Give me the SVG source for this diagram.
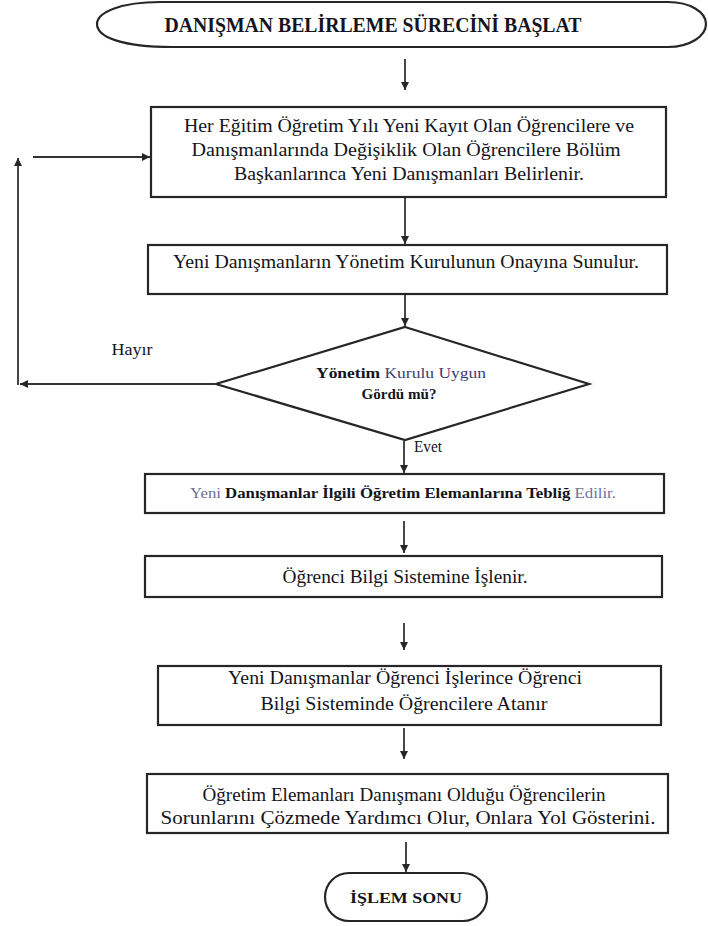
<svg xmlns="http://www.w3.org/2000/svg" width="708" height="926" viewBox="0 0 708 926">
<style>
  .shape { fill: #ffffff; stroke: #262626; stroke-width: 2.2; }
  .line { fill: none; stroke: #333333; stroke-width: 1.8; }
  .t { font-family: "Liberation Serif", "Times New Roman", serif; fill: #141420; text-anchor: middle; }
  .b { font-weight: bold; }
  .light { fill: #6e6e9a; }
  .mid { fill: #3c3c70; }
</style>
<defs>
  <marker id="a" viewBox="0 0 10 10" refX="10" refY="5" markerWidth="9" markerHeight="8" orient="auto" markerUnits="userSpaceOnUse">
    <path d="M0,0 L10,5 L0,10 Z" fill="#262626"/>
  </marker>
</defs>

<g id="start">
  <path class="shape" d="M160,2 L668,2 C690,2 706,12 706,24 C706,36 690,47 668,47 L172,47 C122,47 97,37 97,24 C97,12 122,2 160,2 Z"/>
  <text class="t b" x="373" y="32" font-size="20" textLength="417" lengthAdjust="spacingAndGlyphs">DANIŞMAN BELİRLEME SÜRECİNİ BAŞLAT</text>
</g>

<g id="box1">
  <rect class="shape" x="151" y="107" width="515" height="90"/>
  <text class="t" x="409" y="132" font-size="18" textLength="450" lengthAdjust="spacingAndGlyphs">Her Eğitim Öğretim Yılı Yeni Kayıt Olan Öğrencilere ve</text>
  <text class="t" x="406" y="156" font-size="18" textLength="429" lengthAdjust="spacingAndGlyphs">Danışmanlarında Değişiklik Olan Öğrencilere Bölüm</text>
  <text class="t" x="409" y="180" font-size="18" textLength="350" lengthAdjust="spacingAndGlyphs">Başkanlarınca Yeni Danışmanları Belirlenir.</text>
</g>

<g id="box2">
  <rect class="shape" x="148" y="245" width="519" height="49"/>
  <text class="t" x="406" y="268" font-size="18" textLength="466" lengthAdjust="spacingAndGlyphs">Yeni Danışmanların Yönetim Kurulunun Onayına Sunulur.</text>
</g>

<g id="decision">
  <polygon class="shape" points="405,327 589,384 405,440 216,384"/>
  <text class="t" x="401" y="378" font-size="14.5" textLength="170" lengthAdjust="spacingAndGlyphs"><tspan class="b">Yönetim</tspan> <tspan class="mid">Kurulu Uygun</tspan></text>
  <text class="t b" x="399" y="399" font-size="14.5" textLength="75" lengthAdjust="spacingAndGlyphs">Gördü mü?</text>
</g>

<g id="box3">
  <rect class="shape" x="145" y="474" width="519" height="39"/>
  <text class="t" x="403" y="498" font-size="15" textLength="426" lengthAdjust="spacingAndGlyphs"><tspan class="light">Yeni</tspan> <tspan class="b">Danışmanlar İlgili Öğretim Elemanlarına Tebliğ</tspan> <tspan class="light">Edilir.</tspan></text>
</g>

<g id="box4">
  <rect class="shape" x="145" y="556" width="517" height="41"/>
  <text class="t" x="405" y="583" font-size="18" textLength="245" lengthAdjust="spacingAndGlyphs">Öğrenci Bilgi Sistemine İşlenir.</text>
</g>

<g id="box5">
  <rect class="shape" x="158" y="666" width="503" height="59"/>
  <text class="t" x="405" y="684" font-size="18" textLength="354" lengthAdjust="spacingAndGlyphs">Yeni Danışmanlar Öğrenci İşlerince  Öğrenci</text>
  <text class="t" x="404" y="710" font-size="18" textLength="287" lengthAdjust="spacingAndGlyphs">Bilgi  Sisteminde Öğrencilere Atanır</text>
</g>

<g id="box6">
  <rect class="shape" x="147" y="774" width="521" height="59"/>
  <text class="t" x="404" y="801" font-size="18" textLength="403" lengthAdjust="spacingAndGlyphs">Öğretim Elemanları Danışmanı Olduğu Öğrencilerin</text>
  <text class="t" x="408" y="824" font-size="18" textLength="495" lengthAdjust="spacingAndGlyphs">Sorunlarını Çözmede Yardımcı Olur, Onlara Yol Gösterini.</text>
</g>

<g id="end">
  <rect class="shape" x="325" y="873" width="162" height="48" rx="24" ry="24"/>
  <text class="t b" x="406" y="903" font-size="15" textLength="112" lengthAdjust="spacingAndGlyphs">İŞLEM SONU</text>
</g>

<g id="connectors">
  <line class="line" x1="405" y1="59" x2="405" y2="90" marker-end="url(#a)"/>
  <line class="line" x1="405" y1="198" x2="405" y2="244" marker-end="url(#a)"/>
  <line class="line" x1="405" y1="295" x2="405" y2="326" marker-end="url(#a)"/>
  <line class="line" x1="216" y1="384" x2="20" y2="384" marker-end="url(#a)"/>
  <line class="line" x1="18" y1="385" x2="18" y2="158" marker-end="url(#a)"/>
  <line class="line" x1="33" y1="157" x2="150" y2="157" marker-end="url(#a)"/>
  <line class="line" x1="404" y1="441" x2="404" y2="473" marker-end="url(#a)"/>
  <line class="line" x1="404" y1="521" x2="404" y2="553" marker-end="url(#a)"/>
  <line class="line" x1="404" y1="623" x2="404" y2="650" marker-end="url(#a)"/>
  <line class="line" x1="404" y1="728" x2="404" y2="759" marker-end="url(#a)"/>
  <line class="line" x1="406" y1="842" x2="406" y2="872" marker-end="url(#a)"/>
  <text class="t" x="132" y="355" font-size="16" textLength="41" lengthAdjust="spacingAndGlyphs">Hayır</text>
  <text class="t" x="428" y="452" font-size="16" textLength="28" lengthAdjust="spacingAndGlyphs">Evet</text>
</g>
</svg>
